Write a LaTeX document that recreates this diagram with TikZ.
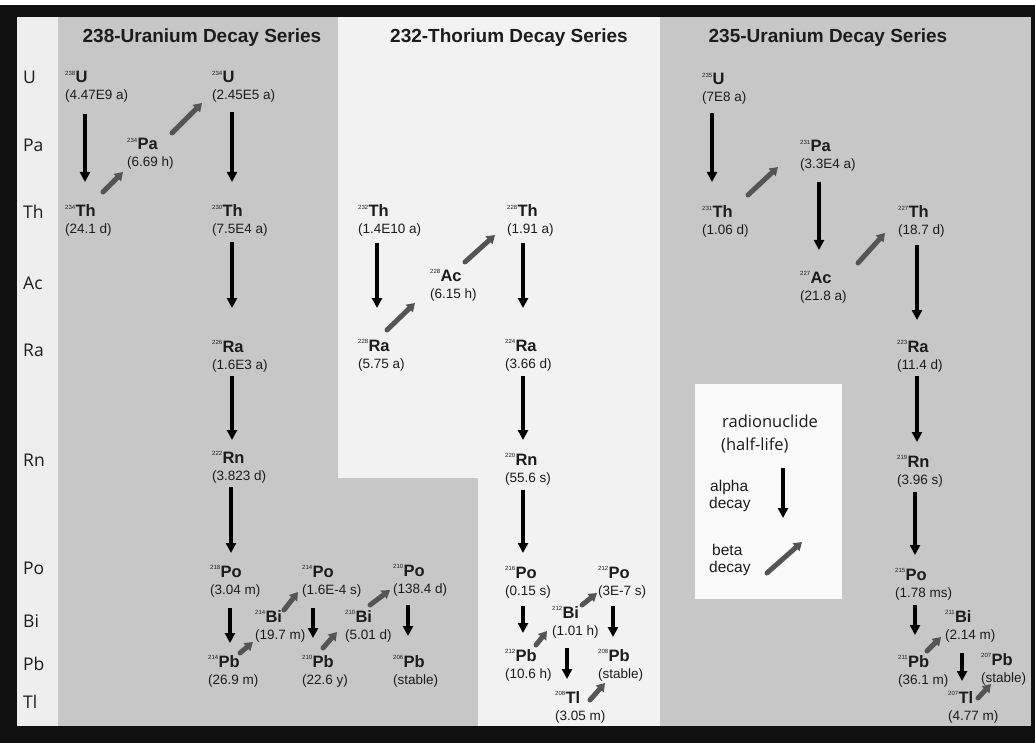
\documentclass[tikz,border=0pt]{standalone}
\usepackage{fontspec}
\setmainfont{Liberation Sans}
\newfontfamily\labfont{Open Sans}
\usetikzlibrary{arrows.meta}
\definecolor{bggray}{RGB}{199,199,199}
\definecolor{bgwhite}{RGB}{242,242,242}
\definecolor{colwhite}{RGB}{238,238,238}
\definecolor{legwhite}{RGB}{250,250,250}
\definecolor{framecol}{RGB}{16,16,16}
\definecolor{betacol}{RGB}{85,85,85}
\definecolor{txt}{RGB}{28,28,28}
\tikzset{
  symnode/.style={anchor=base west, inner sep=0pt, text=txt, font=\fontsize{16.5}{16.5}\selectfont\bfseries},
  hlnode/.style={anchor=base west, inner sep=0pt, text=txt, font=\fontsize{13.5}{13.5}\selectfont},
  titlenode/.style={inner sep=0pt, text=txt, font=\fontsize{19}{19}\selectfont\bfseries},
  elnode/.style={anchor=west, inner sep=0pt, text=txt, font=\labfont\fontsize{17.5}{17.5}\selectfont},
  legbig/.style={anchor=base west, inner sep=0pt, text=txt, font=\labfont\fontsize{16.5}{16.5}\selectfont},
  legsmall/.style={anchor=base west, inner sep=0pt, text=txt, font=\fontsize{15.5}{15.5}\selectfont},
  alphaarrow/.style={line width=4.5pt, draw=black, -{Triangle[length=10pt,width=10pt]}},
  betaarrow/.style={line width=5pt, draw=betacol, line cap=round, -{Triangle[length=8pt,width=10pt]}}
}
\newcommand{\mknuc}[6]{%
  \node[symnode] (#1) at (#2,#3+5) {\raisebox{7.5pt}{\fontsize{6}{6}\selectfont\mdseries #4}\kern0.3pt #5};
  \node[hlnode] (#1h) at (#2,#3+22) {(#6)};
}
\begin{document}
\begin{tikzpicture}[x=1pt,y=-1pt]
\useasboundingbox (0,0) rectangle (1035,743);
\fill[white] (0,0) rectangle (1035,743);
% backgrounds
\fill[colwhite] (17,17) rectangle (58,726);
\fill[bggray] (58,17) rectangle (338,726);
\fill[bgwhite] (338,17) rectangle (660,478);
\fill[bgwhite] (478,478) rectangle (660,726);
\fill[bggray] (338,478) rectangle (478,726);
\fill[bggray] (660,17) rectangle (1031,726);
\fill[legwhite] (695,384) rectangle (842,599);

% titles
\node[titlenode] (t238) at (202,38) {238-Uranium Decay Series};
\node[titlenode] (t232) at (509,38) {232-Thorium Decay Series};
\node[titlenode] (t235) at (828,38) {235-Uranium Decay Series};

% element labels
\node[elnode] (eU) at (23,77) {U};
\node[elnode] (ePa) at (23,145) {Pa};
\node[elnode] (eTh) at (23,212) {Th};
\node[elnode] (eAc) at (23,283) {Ac};
\node[elnode] (eRa) at (23,350) {Ra};
\node[elnode] (eRn) at (23,460) {Rn};
\node[elnode] (ePo) at (23,568) {Po};
\node[elnode] (eBi) at (23,621) {Bi};
\node[elnode] (ePb) at (23,664) {Pb};
\node[elnode] (eTl) at (23,702) {Tl};

% 238-U series
\mknuc{U238}{65}{78}{238}{U}{4.47E9 a}
\mknuc{Pa234}{127}{145}{234}{Pa}{6.69 h}
\mknuc{U234}{212}{78}{234}{U}{2.45E5 a}
\mknuc{Th234}{65}{212}{234}{Th}{24.1 d}
\mknuc{Th230}{212}{212}{230}{Th}{7.5E4 a}
\mknuc{Ra226}{212}{347}{226}{Ra}{1.6E3 a}
\mknuc{Rn222}{212}{458}{222}{Rn}{3.823 d}
\mknuc{Po218}{210}{572}{218}{Po}{3.04 m}
\mknuc{Pb214}{208}{662}{214}{Pb}{26.9 m}
\mknuc{Bi214}{255}{617}{214}{Bi}{19.7 m}
\mknuc{Po214}{302}{572}{214}{Po}{1.6E-4 s}
\mknuc{Pb210}{302}{662}{210}{Pb}{22.6 y}
\mknuc{Bi210}{345}{617}{210}{Bi}{5.01 d}
\mknuc{Po210}{393}{571}{210}{Po}{138.4 d}
\mknuc{Pb206}{393}{662}{206}{Pb}{stable}

% 232-Th series
\mknuc{Th232}{358}{212}{232}{Th}{1.4E10 a}
\mknuc{Ra228}{358}{346}{228}{Ra}{5.75 a}
\mknuc{Ac228}{430}{276}{228}{Ac}{6.15 h}
\mknuc{Th228}{507}{212}{228}{Th}{1.91 a}
\mknuc{Ra224}{505}{346}{224}{Ra}{3.66 d}
\mknuc{Rn220}{505}{460}{220}{Rn}{55.6 s}
\mknuc{Po216}{505}{573}{216}{Po}{0.15 s}
\mknuc{Pb212}{505}{656}{212}{Pb}{10.6 h}
\mknuc{Bi212}{552}{613}{212}{Bi}{1.01 h}
\mknuc{Po212}{598}{573}{212}{Po}{3E-7 s}
\mknuc{Pb208}{598}{656}{208}{Pb}{stable}
\mknuc{Tl208}{555}{698}{208}{Tl}{3.05 m}

% 235-U series
\mknuc{U235}{702}{80}{235}{U}{7E8 a}
\mknuc{Th231}{702}{213}{231}{Th}{1.06 d}
\mknuc{Pa231}{800}{147}{231}{Pa}{3.3E4 a}
\mknuc{Ac227}{800}{278}{227}{Ac}{21.8 a}
\mknuc{Th227}{898}{213}{227}{Th}{18.7 d}
\mknuc{Ra223}{897}{347}{223}{Ra}{11.4 d}
\mknuc{Rn219}{897}{462}{219}{Rn}{3.96 s}
\mknuc{Po215}{895}{575}{215}{Po}{1.78 ms}
\mknuc{Pb211}{898}{662}{211}{Pb}{36.1 m}
\mknuc{Bi211}{945}{617}{211}{Bi}{2.14 m}
\mknuc{Tl207}{948}{698}{207}{Tl}{4.77 m}
\mknuc{Pb207}{981}{660}{207}{Pb}{stable}

% alpha decays
\draw[alphaarrow] ([shift={(20,31)}]U238.base west) -- ([shift={(20,-35)}]Th234.base west);
\draw[alphaarrow] ([shift={(20,29)}]U234.base west) -- ([shift={(20,-35)}]Th230.base west);
\draw[alphaarrow] ([shift={(20,25)}]Th230.base west) -- ([shift={(20,-44)}]Ra226.base west);
\draw[alphaarrow] ([shift={(20,24)}]Ra226.base west) -- ([shift={(20,-23)}]Rn222.base west);
\draw[alphaarrow] ([shift={(19,24)}]Rn222.base west) -- ([shift={(21,-24)}]Po218.base west);
\draw[alphaarrow] ([shift={(20,31)}]Po218.base west) -- ([shift={(22,-24)}]Pb214.base west);
\draw[alphaarrow] ([shift={(11,31)}]Po214.base west) -- ([shift={(11,-29)}]Pb210.base west);
\draw[alphaarrow] ([shift={(15,29)}]Po210.base west) -- ([shift={(15,-31)}]Pb206.base west);
\draw[alphaarrow] ([shift={(19,26)}]Th232.base west) -- ([shift={(19,-43)}]Ra228.base west);
\draw[alphaarrow] ([shift={(16,26)}]Th228.base west) -- ([shift={(18,-43)}]Ra224.base west);
\draw[alphaarrow] ([shift={(18,25)}]Ra224.base west) -- ([shift={(18,-25)}]Rn220.base west);
\draw[alphaarrow] ([shift={(18,25)}]Rn220.base west) -- ([shift={(18,-25)}]Po216.base west);
\draw[alphaarrow] ([shift={(18,28)}]Po216.base west) -- ([shift={(18,-28)}]Pb212.base west);
\draw[alphaarrow] ([shift={(15,28)}]Po212.base west) -- ([shift={(15,-24)}]Pb208.base west);
\draw[alphaarrow] ([shift={(15,30)}]Bi212.base west) -- ([shift={(12,-24)}]Tl208.base west);
\draw[alphaarrow] ([shift={(10,28)}]U235.base west) -- ([shift={(10,-36)}]Th231.base west);
\draw[alphaarrow] ([shift={(19,30)}]Pa231.base west) -- ([shift={(19,-33)}]Ac227.base west);
\draw[alphaarrow] ([shift={(19,27)}]Th227.base west) -- ([shift={(20,-32)}]Ra223.base west);
\draw[alphaarrow] ([shift={(20,24)}]Ra223.base west) -- ([shift={(20,-25)}]Rn219.base west);
\draw[alphaarrow] ([shift={(18,25)}]Rn219.base west) -- ([shift={(20,-25)}]Po215.base west);
\draw[alphaarrow] ([shift={(20,25)}]Po215.base west) -- ([shift={(17,-32)}]Pb211.base west);
\draw[alphaarrow] ([shift={(17,31)}]Bi211.base west) -- ([shift={(14,-22)}]Tl207.base west);

% beta decays
\draw[betaarrow] ([shift={(38,-25)}]Th234.base west) -- ([shift={(-4,22)}]Pa234.base west);
\draw[betaarrow] ([shift={(45,-17)}]Pa234.base west) -- ([shift={(-10,20)}]U234.base west);
\draw[betaarrow] ([shift={(32,-14)}]Pb214.base west) -- ([shift={(-2,20)}]Bi214.base west);
\draw[betaarrow] ([shift={(29,-12)}]Bi214.base west) -- ([shift={(-4,15)}]Po214.base west);
\draw[betaarrow] ([shift={(21,-19)}]Pb210.base west) -- ([shift={(-8,10)}]Bi210.base west);
\draw[betaarrow] ([shift={(25,-17)}]Bi210.base west) -- ([shift={(-3,14)}]Po210.base west);
\draw[betaarrow] ([shift={(29,-21)}]Ra228.base west) -- ([shift={(-15,22)}]Ac228.base west);
\draw[betaarrow] ([shift={(35,-19)}]Ac228.base west) -- ([shift={(-12,18)}]Th228.base west);
\draw[betaarrow] ([shift={(31,-16)}]Pb212.base west) -- ([shift={(-5,13)}]Bi212.base west);
\draw[betaarrow] ([shift={(30,-13)}]Bi212.base west) -- ([shift={(-1,15)}]Po212.base west);
\draw[betaarrow] ([shift={(35,-3)}]Tl208.base west) -- ([shift={(7,22)}]Pb208.base west);
\draw[betaarrow] ([shift={(46,-23)}]Th231.base west) -- ([shift={(-22,15)}]Pa231.base west);
\draw[betaarrow] ([shift={(58,-20)}]Ac227.base west) -- ([shift={(-13,15)}]Th227.base west);
\draw[betaarrow] ([shift={(29,-16)}]Pb211.base west) -- ([shift={(-4,15)}]Bi211.base west);
\draw[betaarrow] ([shift={(30,-5)}]Tl207.base west) -- ([shift={(10,19)}]Pb207.base west);

% legend
\node[legbig] (legr) at (722,427) {radionuclide};
\node[legbig] (legh) at (721,450) {(half-life)};
\node[legsmall] (lega1) at (710,491) {alpha};
\node[legsmall] (lega2) at (709,508) {decay};
\node[legsmall] (legb1) at (712,555) {beta};
\node[legsmall] (legb2) at (709,572) {decay};
\coordinate (la1) at (783,468);
\coordinate (la2) at (783,518);
\coordinate (lb1) at (767,573);
\coordinate (lb2) at (802,542);
\draw[alphaarrow] (la1) -- (la2);
\draw[betaarrow] (lb1) -- (lb2);

% black frame
\fill[framecol] (0,5) rectangle (1035,17);
\fill[framecol] (0,5) rectangle (17,743);
\fill[framecol] (0,726) rectangle (1035,743);
\fill[framecol] (1031,5) rectangle (1035,743);
\end{tikzpicture}
\end{document}
